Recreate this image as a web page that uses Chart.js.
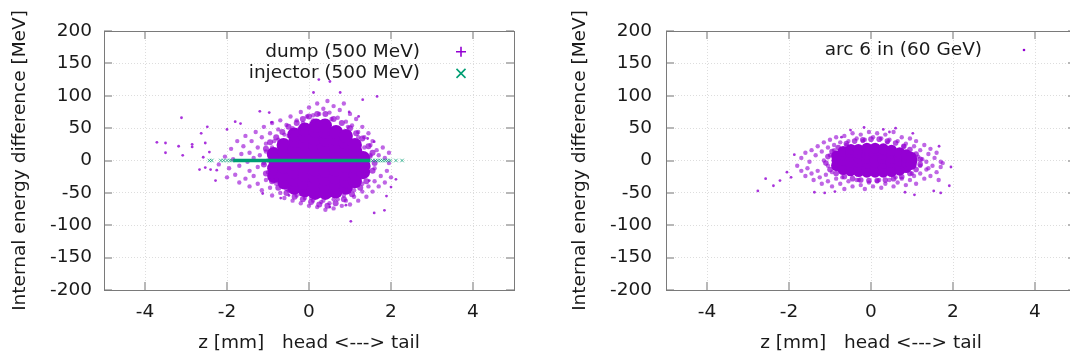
<!DOCTYPE html>
<html lang="en">
<head>
<meta charset="UTF-8">
<title>Internal energy difference</title>
<script src="https://cdn.jsdelivr.net/npm/chart.js"></script>
<style>
  body { margin: 0; background: #fff; width: 1070px; height: 358px; overflow: hidden; position: relative; }
  .panel { position: absolute; top: 0; width: 562px; height: 358px; }
  #left { left: 0; }
  #right { left: 562px; }
</style>
</head>
<body>
<div class="panel" id="left"><canvas id="dumpChart" width="562" height="358"></canvas></div>
<div class="panel" id="right"><canvas id="arcChart" width="562" height="358"></canvas></div>
<script>
  // axes
  const zTicks = [-4, -2, 0, 2, 4];
  const eTicks = [-200, -150, -100, -50, 0, 50, 100, 150, 200];
  const xTitle = 'z [mm]   head <---> tail';
  const yTitle = 'Internal energy difference [MeV]';

  const dumpLabel = 'dump (500 MeV)';
  const injectorLabel = 'injector (500 MeV)';
  const arcLabel = 'arc 6 in (60 GeV)';

  // left panel, dump: [z mm, dE MeV]
  const dumpCore = [
    [-0.85,-24],[-0.85,-12],[-0.82,0],[-0.86,10],
    [-0.6,-34],[-0.62,-22],[-0.6,-10],[-0.58,2],[-0.6,14],[-0.62,24],
    [-0.36,-42],[-0.35,-30],[-0.37,-18],[-0.34,-6],[-0.36,6],[-0.35,18],[-0.33,30],[-0.36,40],
    [-0.1,-46],[-0.12,-34],[-0.1,-22],[-0.08,-10],[-0.1,2],[-0.11,14],[-0.09,26],[-0.1,38],[-0.1,48],
    [0.15,-50],[0.14,-38],[0.16,-26],[0.15,-14],[0.13,-2],[0.15,10],[0.16,22],[0.14,34],[0.15,46],[0.17,54],
    [0.4,-50],[0.41,-40],[0.39,-28],[0.4,-16],[0.42,-4],[0.4,8],[0.38,20],[0.41,32],[0.4,44],[0.39,54],
    [0.65,-48],[0.66,-38],[0.64,-26],[0.65,-14],[0.63,-2],[0.66,10],[0.65,22],[0.64,34],[0.66,44],
    [0.9,-42],[0.91,-32],[0.89,-20],[0.9,-8],[0.92,4],[0.9,16],[0.88,28],[0.9,38],
    [1.12,-32],[1.14,-22],[1.16,-10],[1.15,2],[1.13,14],[1.12,24],
    [1.32,-18],[1.33,-8],[1.32,4]
  ];
  const dumpFringe = [
    [-1.05,18],[-0.95,28],[-0.8,36],[-0.65,44],[-0.5,52],[-0.3,58],[-0.15,64],[0.0,68],[0.2,72],[0.4,72],
    [0.6,64],[0.8,58],[1.0,50],[1.15,42],[1.3,34],[1.45,22],[1.55,12],
    [-1.1,-6],[-1.05,-20],[-0.9,-32],[-0.75,-42],[-0.55,-50],[-0.35,-56],[-0.15,-60],[0.05,-64],[0.25,-68],
    [0.45,-70],[0.65,-66],[0.85,-60],[1.05,-52],[1.25,-42],[1.4,-32],[1.55,-16],[1.6,-4]
  ];
  const dumpHalo = [
    [-1.9,18],[-1.75,30],[-1.6,22],[-1.55,38],[-1.45,12],[-1.4,30],[-1.3,44],[-1.25,20],[-1.15,36],[-1.1,52],
    [-1.05,26],[-0.95,42],[-0.9,58],[-0.85,30],[-0.75,48],[-0.7,62],[-0.6,40],[-0.55,55],[-0.45,68],[-0.4,50],
    [-0.3,62],[-0.2,75],[-0.15,58],[-0.05,68],[0.0,82],[0.1,70],[0.2,88],[0.25,72],[0.35,80],[0.45,92],
    [0.5,74],[0.6,84],[0.7,66],[0.75,78],[0.85,88],[0.9,60],[1.0,72],[1.05,54],[1.15,64],[1.2,44],
    [1.3,52],[1.35,36],[1.45,42],[1.5,24],[1.55,30],[1.65,16],[1.7,8],[1.8,20],[1.85,4],[1.95,12],
    [-2.2,-6],[-2.05,6],[-1.95,-12],[-1.85,2],[-1.7,-8],[-1.65,10],[-1.5,-2],[-1.45,-16],[-1.35,4],[-1.25,-10],
    [-1.2,8],[-1.1,-4],[-1.05,14],[-1.0,-18],
    [-2.0,-26],[-1.8,-22],[-1.7,-34],[-1.55,-28],[-1.45,-40],[-1.35,-24],[-1.25,-36],[-1.15,-46],[-1.05,-30],[-0.95,-42],
    [-0.9,-54],[-0.8,-36],[-0.7,-50],[-0.6,-58],[-0.5,-46],[-0.4,-62],[-0.3,-54],[-0.2,-66],[-0.1,-58],[0.0,-70],
    [0.1,-62],[0.2,-72],[0.3,-64],[0.4,-76],[0.5,-66],[0.6,-74],[0.7,-60],[0.8,-70],[0.9,-62],[1.0,-68],
    [1.1,-56],[1.2,-62],[1.3,-48],[1.4,-56],[1.45,-40],[1.55,-48],[1.6,-32],[1.7,-40],[1.75,-24],[1.85,-34],
    [1.9,-16],[2.0,-26],[1.95,-4],[1.6,-12],[1.5,6],[1.4,-22],
    [-1.0,0],[-0.95,-10],[-0.9,20],[-0.8,-30],[-0.75,32],[-0.55,-44],[-0.5,38],[-0.25,48],[-0.2,-52],[0.05,-58],
    [0.1,62],[0.35,-62],[0.55,64],[0.6,-60],[0.85,-54],[0.95,52],[1.1,-46],[1.2,36],[1.3,-36],[1.35,20],
    [1.45,-10],[1.5,8]
  ];
  const dumpSparse = [
    [-3.71,28],[-3.5,27],[-3.5,12],[-3.18,22],[-3.08,8],[-3.11,66],[-2.85,25],[-2.85,21],[-2.53,27],[-2.63,42],
    [-2.48,52],[-2.58,5],[-2.67,-14],[-2.53,-11],[-2.4,-14],[-2.25,-15],[-2.28,-31],[-2.43,13],[-2.0,48],[-1.8,60],
    [-1.67,57],[-1.2,76],[-0.97,74],[-0.91,59],[-1.13,-51],[0.76,105],[0.11,105],[0.51,122],[0.24,125],[1.66,99],
    [1.31,94],[1.02,-94],[1.84,-77],[2.0,-41],[2.12,-29],[1.89,-55],[1.59,-81],[0.51,-72],[0.9,-69],[-0.69,-58],
    [-0.49,-54],[1.47,-31],[1.59,29],[1.43,34],[1.21,68],[0.98,75]
  ];

  // left panel, injector: dense band ends, then the loose markers beyond them
  const injectorBand = [[-1.85,0],[1.5,0]];
  const injectorSparse = [
    [-2.43,0],[-2.37,0],[-2.15,0],[-2.08,0],[-2.0,0],[-1.93,0],[-1.88,0],
    [1.55,0],[1.62,0],[1.68,0],[1.74,0],[1.8,0],[1.86,0],[1.92,0],[1.98,0],[2.12,0],[2.27,0]
  ];

  // right panel, arc 6 in
  const arcCore = [
    [-0.84,-8],[-0.83,0],[-0.84,7],
    [-0.68,-14],[-0.7,-7],[-0.69,1],[-0.7,9],[-0.68,14],
    [-0.5,-16],[-0.49,-9],[-0.51,-2],[-0.5,6],[-0.5,12],[-0.49,17],
    [-0.3,-17],[-0.31,-10],[-0.3,-3],[-0.29,4],[-0.3,11],[-0.31,17],
    [-0.1,-18],[-0.1,-11],[-0.09,-4],[-0.1,3],[-0.11,10],[-0.1,16],[-0.1,19],
    [0.1,-18],[0.11,-11],[0.1,-4],[0.09,3],[0.1,10],[0.11,16],[0.1,19],
    [0.3,-18],[0.3,-11],[0.31,-4],[0.29,3],[0.3,10],[0.31,16],[0.3,18],
    [0.5,-17],[0.5,-10],[0.49,-3],[0.51,4],[0.5,11],[0.5,16],
    [0.7,-15],[0.71,-8],[0.7,-1],[0.69,6],[0.7,12],
    [0.86,-11],[0.87,-4],[0.88,3],[0.86,9],
    [0.98,-6],[1.0,0],[0.98,5]
  ];
  const arcFringe = [
    [-1.1,-4],[-1.05,6],[-0.95,14],[-0.8,20],[-0.6,26],[-0.4,30],[-0.2,32],[0.0,33],[0.2,33],[0.4,30],
    [0.6,27],[0.8,22],[0.95,17],[1.1,10],[1.2,2],[1.2,-6],[1.1,-14],[0.95,-20],[0.75,-25],[0.55,-28],
    [0.35,-30],[0.15,-31],[-0.05,-31],[-0.25,-30],[-0.45,-28],[-0.65,-25],[-0.85,-20],[-1.0,-14]
  ];
  const arcHalo = [
    [-1.7,4],[-1.6,12],[-1.5,-2],[-1.45,16],[-1.35,8],[-1.3,22],[-1.2,14],[-1.15,28],[-1.05,20],[-1.0,32],
    [-0.9,24],[-0.85,36],[-0.75,28],[-0.65,38],[-0.55,30],[-0.45,42],[-0.35,34],[-0.25,40],[-0.15,32],[-0.05,44],
    [0.05,36],[0.15,42],[0.25,34],[0.35,40],[0.45,32],[0.55,44],[0.65,30],[0.75,36],[0.85,26],[0.95,34],
    [1.05,22],[1.1,30],[1.2,16],[1.3,24],[1.4,10],[1.45,18],[1.55,4],[1.6,12],[1.7,-2],
    [-1.8,-8],[-1.7,-16],[-1.6,-24],[-1.55,-12],[-1.45,-20],[-1.4,-30],[-1.3,-16],[-1.25,-26],[-1.2,-36],[-1.1,-22],
    [-1.05,-32],[-0.95,-40],[-0.85,-28],[-0.75,-36],[-0.65,-44],[-0.55,-32],[-0.45,-40],[-0.35,-30],[-0.25,-38],[-0.15,-44],
    [-0.05,-34],[0.05,-40],[0.15,-32],[0.25,-42],[0.35,-36],[0.45,-30],[0.55,-40],[0.65,-34],[0.75,-28],[0.85,-38],
    [0.95,-30],[1.05,-24],[1.1,-36],[1.2,-20],[1.3,-28],[1.35,-14],[1.45,-24],[1.5,-8],[1.6,-18],[1.65,-30],
    [1.7,-10],[1.75,-4],
    [-1.15,0],[-1.05,-8],[-1.0,8],[-0.95,-18],[-0.9,16],[-0.7,-26],[-0.6,24],[-0.3,-30],[-0.2,30],[0.2,-30],
    [0.4,28],[0.6,-26],[0.8,22],[1.0,-20],[1.15,6],[1.2,-8],[1.25,2],[1.35,-2],[1.4,-12]
  ];
  const arcSparse = [
    [-2.76,-47],[-2.57,-28],[-2.38,-39],[-2.22,-31],[-2.05,-18],[-1.87,9],[-1.95,-26],[1.95,-10],[1.91,-39],[1.7,-50],
    [1.53,-47],[1.06,-53],[0.6,50],[-0.17,51],[1.02,42],[1.66,22],[-1.38,-49],[-1.13,-50],[-0.88,-48],[0.83,-49],
    [-0.72,36],[0.45,44],[-0.5,47],[0.3,48]
  ];

  const VIOLET = '#9400d3';
  const GREEN = '#009e73';
  const FONT = { family: 'DejaVu Sans', size: 18.5, lineHeight: 1.2 };

  const pts = arr => arr.map(([x, y]) => ({ x, y }));

  // gnuplot-ish box with inward ticks on all sides
  const frame = {
    id: 'frame',
    afterDraw(chart) {
      const { ctx, chartArea: a, scales: { x, y } } = chart;
      ctx.save();
      ctx.strokeStyle = '#b8b8b8';
      ctx.lineWidth = 2;
      ctx.beginPath();
      zTicks.forEach(v => {
        const px = Math.round(x.getPixelForValue(v));
        ctx.moveTo(px, a.bottom); ctx.lineTo(px, a.bottom - 8);
        ctx.moveTo(px, a.top); ctx.lineTo(px, a.top + 8);
      });
      eTicks.forEach(v => {
        const py = Math.round(y.getPixelForValue(v));
        ctx.moveTo(a.left, py); ctx.lineTo(a.left + 8, py);
        ctx.moveTo(a.right, py); ctx.lineTo(a.right - 8, py);
      });
      ctx.stroke();
      ctx.strokeStyle = '#7a7a7a';
      ctx.lineWidth = 1;
      ctx.strokeRect(Math.round(a.left) + 0.5, Math.round(a.top) + 0.5, Math.round(a.width), Math.round(a.height));
      ctx.restore();
    }
  };

  // key: text right-aligned, marker to its right
  const keyBox = {
    id: 'keyBox',
    afterDraw(chart, args, o) {
      const ctx = chart.ctx;
      ctx.save();
      ctx.font = FONT.size + 'px "DejaVu Sans"';
      ctx.textAlign = 'right';
      ctx.textBaseline = 'middle';
      o.items.forEach((it, i) => {
        const y = o.top + i * o.step;
        ctx.fillStyle = '#1a1a1a';
        ctx.fillText(it.text, o.textRight, y);
        ctx.strokeStyle = it.color;
        ctx.fillStyle = it.color;
        ctx.lineWidth = 1.6;
        ctx.beginPath();
        if (it.mark === 'plus') {
          ctx.moveTo(o.markX - 5, y); ctx.lineTo(o.markX + 5, y);
          ctx.moveTo(o.markX, y - 5); ctx.lineTo(o.markX, y + 5);
          ctx.stroke();
        } else if (it.mark === 'cross') {
          ctx.moveTo(o.markX - 4.5, y - 4.5); ctx.lineTo(o.markX + 4.5, y + 4.5);
          ctx.moveTo(o.markX - 4.5, y + 4.5); ctx.lineTo(o.markX + 4.5, y - 4.5);
          ctx.stroke();
        } else {
          ctx.arc(o.markX, y, 1.3, 0, Math.PI * 2);
          ctx.fill();
        }
      });
      ctx.restore();
    }
  };

  function makeChart(id, datasets, key, look) {
    return new Chart(document.getElementById(id), {
      type: 'scatter',
      data: { datasets: datasets },
      options: {
        responsive: false,
        animation: false,
        devicePixelRatio: 1,
        events: [],
        layout: { padding: { top: 31, right: 48, left: 0, bottom: 0 } },
        plugins: {
          legend: { display: false },
          tooltip: { enabled: false },
          keyBox: key
        },
        elements: { point: { borderWidth: 0 } },
        scales: {
          x: {
            type: 'linear', min: -5, max: 5,
            afterBuildTicks: s => { s.ticks = zTicks.map(v => ({ value: v })); },
            afterFit: s => { s.height = 68; },
            grid: { color: '#dddddd', lineWidth: 1, drawTicks: false },
            border: { display: false, dash: [1, 2] },
            ticks: { font: FONT, color: '#1a1a1a', padding: 10.6, maxRotation: 0, autoSkip: false },
            title: { display: true, text: xTitle, font: FONT, color: '#1a1a1a', padding: { top: 0, bottom: 3.6 } }
          },
          y: {
            type: 'linear', min: -200, max: 200,
            afterBuildTicks: s => { s.ticks = eTicks.map(v => ({ value: v })); },
            afterFit: s => { s.width = 104; },
            grid: { color: '#dddddd', lineWidth: 1, drawTicks: false },
            border: { display: false, dash: [1, 2] },
            ticks: { font: FONT, color: '#1a1a1a', padding: look.tickPad },
            title: { display: true, text: yTitle, font: FONT, color: '#1a1a1a', padding: { top: look.titlePad, bottom: 0 } }
          }
        }
      },
      plugins: [frame, keyBox]
    });
  }

  makeChart('dumpChart', [
    { label: dumpLabel, data: pts(dumpCore), pointRadius: 7, backgroundColor: VIOLET, order: 4 },
    { label: dumpLabel, data: pts(dumpFringe), pointRadius: 3, backgroundColor: 'rgba(148,0,211,0.7)', order: 3 },
    { label: dumpLabel, data: pts(dumpHalo), pointRadius: 2.2, backgroundColor: 'rgba(148,0,211,0.6)', order: 2 },
    { label: dumpLabel, data: pts(dumpSparse), pointRadius: 1.4, backgroundColor: 'rgba(148,0,211,0.8)', order: 2 },
    { label: injectorLabel, data: pts(injectorBand), showLine: true, borderColor: GREEN, borderWidth: 3.5, pointRadius: 0, order: 0 },
    { label: injectorLabel, data: pts(injectorSparse), pointStyle: 'crossRot', pointRadius: 2.5, borderWidth: 1,
      borderColor: 'rgba(0,158,115,0.7)', backgroundColor: 'rgba(0,158,115,0.7)', order: 1 }
  ], {
    textRight: 420, markX: 461, top: 51.7, step: 21.7,
    items: [
      { text: dumpLabel, mark: 'plus', color: VIOLET },
      { text: injectorLabel, mark: 'cross', color: GREEN }
    ]
  }, { tickPad: 12, titlePad: 9.4 });

  makeChart('arcChart', [
    { label: arcLabel, data: pts(arcCore), pointRadius: 5.5, backgroundColor: VIOLET, order: 4 },
    { label: arcLabel, data: pts(arcFringe), pointRadius: 2.8, backgroundColor: 'rgba(148,0,211,0.7)', order: 3 },
    { label: arcLabel, data: pts(arcHalo), pointRadius: 2.2, backgroundColor: 'rgba(148,0,211,0.6)', order: 2 },
    { label: arcLabel, data: pts(arcSparse), pointRadius: 1.4, backgroundColor: 'rgba(148,0,211,0.8)', order: 2 }
  ], {
    textRight: 420, markX: 462, top: 50, step: 21.7,
    items: [
      { text: arcLabel, mark: 'dot', color: VIOLET }
    ]
  }, { tickPad: 14, titlePad: 6.9 });
</script>
</body>
</html>
